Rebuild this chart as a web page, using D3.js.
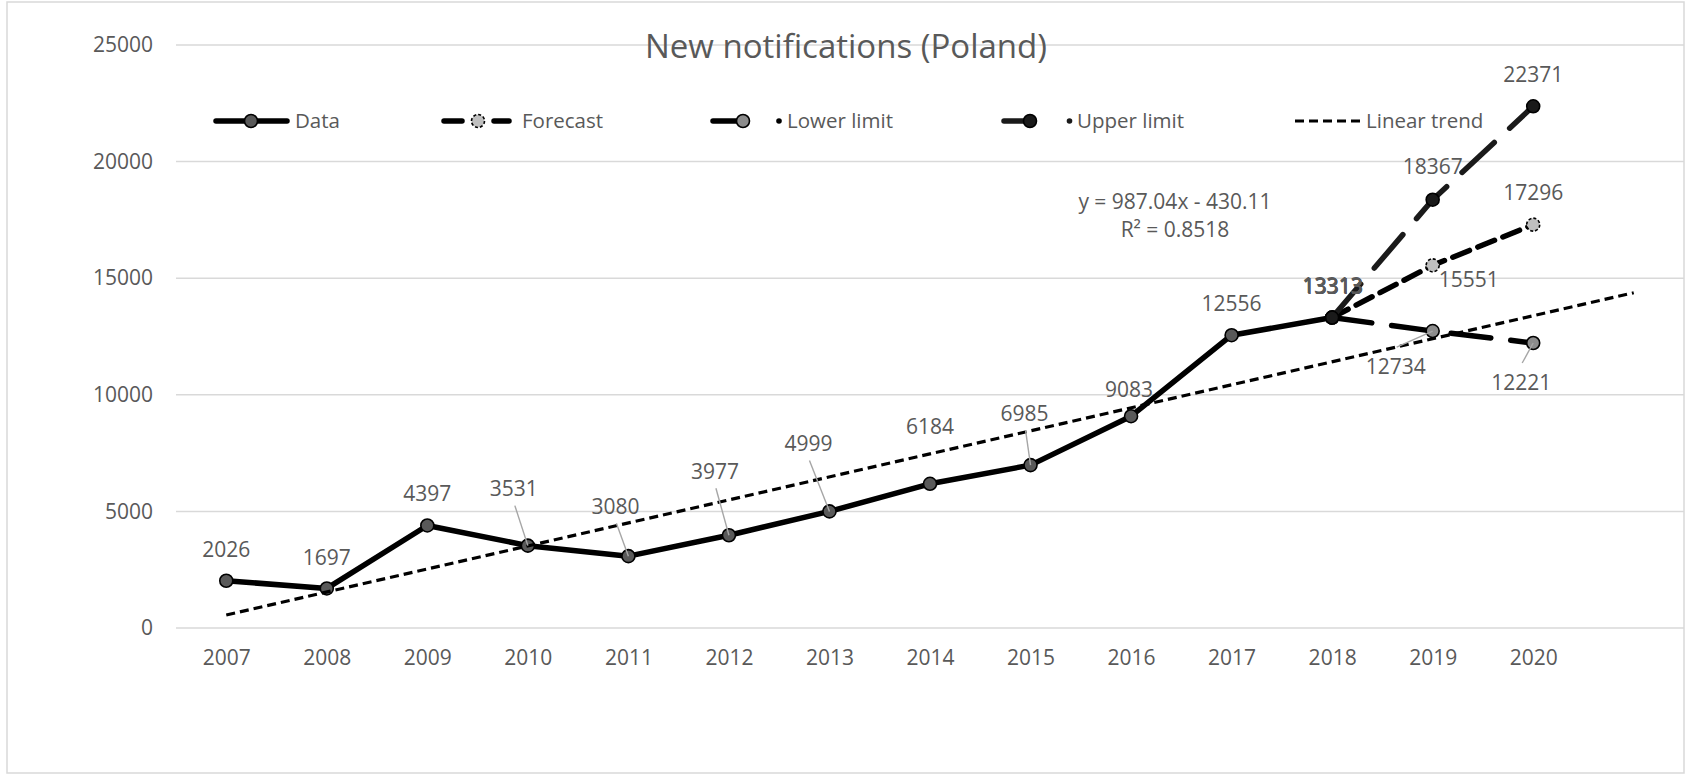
<!DOCTYPE html>
<html>
<head>
<meta charset="utf-8">
<script src="https://cdn.jsdelivr.net/npm/d3@7"></script>
<style>
  body { margin: 0; background: #fff; }
  text { font-family: "Open Sans", sans-serif; fill: #595959; }
</style>
</head>
<body>
<div id="chart"></div>
<script>
// chart values
const years = [2007, 2008, 2009, 2010, 2011, 2012, 2013, 2014, 2015, 2016, 2017, 2018, 2019, 2020];
const dataYears = [2007, 2008, 2009, 2010, 2011, 2012, 2013, 2014, 2015, 2016, 2017, 2018];
const dataValues = [2026, 1697, 4397, 3531, 3080, 3977, 4999, 6184, 6985, 9083, 12556, 13313];
const forecastYears = [2018, 2019, 2020];
const forecastValues = [13313, 15551, 17296];
const lowerValues = [13313, 12734, 12221];
const upperValues = [13313, 18367, 22371];
const yTicks = [0, 5000, 10000, 15000, 20000, 25000];
const trendCoef = [987.04, -430.11];   // slope, intercept (per period index)
const trendPeriods = [1, 15];          // 2007 .. one period past 2020
const equationLines = ["y = 987.04x - 430.11", "R\u00B2 = 0.8518"];
const seriesNames = ["Data", "Forecast", "Lower limit", "Upper limit", "Linear trend"];

// label placement (offset of label centre from its marker, and leader flag)
const dataLabelPos = [
  [0, -31, 0], [0, -31, 0], [0, -32, 0], [-14, -57, 1], [-13, -50, 1], [-14, -64, 1],
  [-21, -68, 1], [0, -57, 0], [-6, -52, 1], [-2, -27, 0], [0, -32, 0], [1, -31, 0]
];
const forecastLabelPos = [[1, -31, 0], [36, 14, 0], [0, -32, 0]];
const lowerLabelPos = [[0, -32, 0], [-37, 35, 1], [-12, 39, 1]];
const upperLabelPos = [[0.6, -31.5, 0], [0, -33, 0], [0, -32, 0]];

const W = 1686, H = 776;
const plot = { left: 176, right: 1684, top: 45, bottom: 628 };

const svg = d3.select("#chart")
  .append("svg")
  .attr("width", W)
  .attr("height", H);

// period index: 2007 -> 1
const per = yr => yr - 2006;

const x = d3.scaleLinear()
  .domain([0.5, 15.5])
  .range([plot.left, plot.right]);

const y = d3.scaleLinear()
  .domain([0, 25000])
  .range([plot.bottom, plot.top]);

// chart border
svg.append("rect")
  .attr("x", 7).attr("y", 2)
  .attr("width", 1677).attr("height", 771)
  .attr("fill", "none")
  .attr("stroke", "#d9d9d9")
  .attr("stroke-width", 1.5);

// gridlines
svg.selectAll(".grid")
  .data(yTicks)
  .enter()
  .append("line")
  .attr("class", "grid")
  .attr("x1", plot.left).attr("x2", plot.right)
  .attr("y1", d => y(d)).attr("y2", d => y(d))
  .attr("stroke", "#d9d9d9")
  .attr("stroke-width", 1.5);

// y axis
const yAxis = svg.append("g")
  .attr("transform", `translate(${plot.left},0)`)
  .call(d3.axisLeft(y).tickValues(yTicks).tickSize(0).tickPadding(23).tickFormat(d3.format("d")));
yAxis.select(".domain").remove();
yAxis.selectAll("text").attr("font-size", 21).attr("font-family", "Open Sans");

// x axis
const xAxis = svg.append("g")
  .attr("transform", `translate(0,${plot.bottom})`)
  .call(d3.axisBottom(x).tickValues(years.map(per)).tickSize(0).tickPadding(22).tickFormat(i => years[i - 1]));
xAxis.select(".domain").remove();
xAxis.selectAll("text").attr("font-size", 21).attr("font-family", "Open Sans");

// title
svg.append("text")
  .attr("x", 846).attr("y", 58)
  .attr("text-anchor", "middle")
  .attr("font-size", 33)
  .text("New notifications (Poland)");

const line = d3.line()
  .x(d => x(per(d.year)))
  .y(d => y(d.value));

const toPoints = (yrs, vals) => yrs.map((yr, i) => ({ year: yr, value: vals[i] }));

const series = [
  { name: seriesNames[0], pts: toPoints(dataYears, dataValues), dash: null, color: "#000", fill: "#595959", mdash: null, labels: dataLabelPos },
  { name: seriesNames[1], pts: toPoints(forecastYears, forecastValues), dash: "18,9", color: "#000", fill: "#bfbfbf", mdash: "3,2", labels: forecastLabelPos },
  { name: seriesNames[2], pts: toPoints(forecastYears, lowerValues), dash: "40,20", color: "#000", fill: "#8c8c8c", mdash: null, labels: lowerLabelPos },
  { name: seriesNames[3], pts: toPoints(forecastYears, upperValues), dash: "44,21", color: "#1a1a1a", fill: "#1a1a1a", mdash: null, labels: upperLabelPos }
];

// series lines + markers
series.forEach(s => {
  svg.append("path")
    .datum(s.pts)
    .attr("d", line)
    .attr("fill", "none")
    .attr("stroke", s.color)
    .attr("stroke-width", 5.5)
    .attr("stroke-dasharray", s.dash)
    .attr("stroke-linecap", "round")
    .attr("stroke-linejoin", "round");

  svg.selectAll(null)
    .data(s.pts)
    .enter()
    .append("circle")
    .attr("cx", d => x(per(d.year)))
    .attr("cy", d => y(d.value))
    .attr("r", 6.5)
    .attr("fill", s.fill)
    .attr("stroke", "#000")
    .attr("stroke-width", 1.6)
    .attr("stroke-dasharray", s.mdash);
});

// linear trend
const trendPts = trendPeriods.map(p => ({ p: p, v: trendCoef[0] * p + trendCoef[1] }));
svg.append("path")
  .datum(trendPts)
  .attr("d", d3.line().x(d => x(d.p)).y(d => y(d.v)))
  .attr("fill", "none")
  .attr("stroke", "#000")
  .attr("stroke-width", 3.2)
  .attr("stroke-dasharray", "9,5");

// trend equation
svg.selectAll(".eq")
  .data(equationLines)
  .enter()
  .append("text")
  .attr("class", "eq")
  .attr("x", 1175)
  .attr("y", (d, i) => 209 + i * 28)
  .attr("text-anchor", "middle")
  .attr("font-size", 21)
  .text(d => d);

// data labels with leader lines
series.forEach(s => {
  s.pts.forEach((d, i) => {
    const mx = x(per(d.year)), my = y(d.value);
    const [dx, dy, leader] = s.labels[i];
    const lx = mx + dx, ly = my + dy;
    if (leader) {
      const sy = dy < 0 ? ly + 17 : ly - 19;
      svg.append("line")
        .attr("x1", lx + 1).attr("y1", sy)
        .attr("x2", mx).attr("y2", my)
        .attr("stroke", "#a6a6a6")
        .attr("stroke-width", 1.4);
    }
    svg.append("text")
      .attr("x", lx).attr("y", ly)
      .attr("dy", "0.36em")
      .attr("text-anchor", "middle")
      .attr("font-size", 21)
      .text(d.value);
  });
});

// legend
const legendY = 121;
const leg = svg.append("g");

// Data
leg.append("line").attr("x1", 216).attr("x2", 287).attr("y1", legendY).attr("y2", legendY)
  .attr("stroke", "#000").attr("stroke-width", 5.5).attr("stroke-linecap", "round");
leg.append("circle").attr("cx", 251).attr("cy", legendY).attr("r", 6.5)
  .attr("fill", "#595959").attr("stroke", "#000").attr("stroke-width", 1.6);

// Forecast
leg.append("line").attr("x1", 444).attr("x2", 462).attr("y1", legendY).attr("y2", legendY)
  .attr("stroke", "#000").attr("stroke-width", 5.5).attr("stroke-linecap", "round");
leg.append("line").attr("x1", 494).attr("x2", 509).attr("y1", legendY).attr("y2", legendY)
  .attr("stroke", "#000").attr("stroke-width", 5.5).attr("stroke-linecap", "round");
leg.append("circle").attr("cx", 478).attr("cy", legendY).attr("r", 6.5)
  .attr("fill", "#bfbfbf").attr("stroke", "#000").attr("stroke-width", 1.6).attr("stroke-dasharray", "3,2");

// Lower limit
leg.append("line").attr("x1", 713).attr("x2", 743).attr("y1", legendY).attr("y2", legendY)
  .attr("stroke", "#000").attr("stroke-width", 5.5).attr("stroke-linecap", "round");
leg.append("circle").attr("cx", 743).attr("cy", legendY).attr("r", 6.5)
  .attr("fill", "#8c8c8c").attr("stroke", "#000").attr("stroke-width", 1.6);
leg.append("circle").attr("cx", 779).attr("cy", legendY).attr("r", 2.8).attr("fill", "#000");

// Upper limit
leg.append("line").attr("x1", 1004).attr("x2", 1030).attr("y1", legendY).attr("y2", legendY)
  .attr("stroke", "#1a1a1a").attr("stroke-width", 5.5).attr("stroke-linecap", "round");
leg.append("circle").attr("cx", 1030).attr("cy", legendY).attr("r", 6.5)
  .attr("fill", "#1a1a1a").attr("stroke", "#000").attr("stroke-width", 1.6);
leg.append("circle").attr("cx", 1069.5).attr("cy", legendY).attr("r", 2.8).attr("fill", "#1a1a1a");

// Linear trend
leg.append("line").attr("x1", 1295).attr("x2", 1362).attr("y1", legendY).attr("y2", legendY)
  .attr("stroke", "#000").attr("stroke-width", 3.2).attr("stroke-dasharray", "9,5");

const legendTextX = [295, 522, 787, 1077, 1366];
leg.selectAll(".lt")
  .data(seriesNames)
  .enter()
  .append("text")
  .attr("class", "lt")
  .attr("x", (d, i) => legendTextX[i])
  .attr("y", legendY)
  .attr("dy", "0.36em")
  .attr("font-size", 20.5)
  .text(d => d);
</script>
</body>
</html>
